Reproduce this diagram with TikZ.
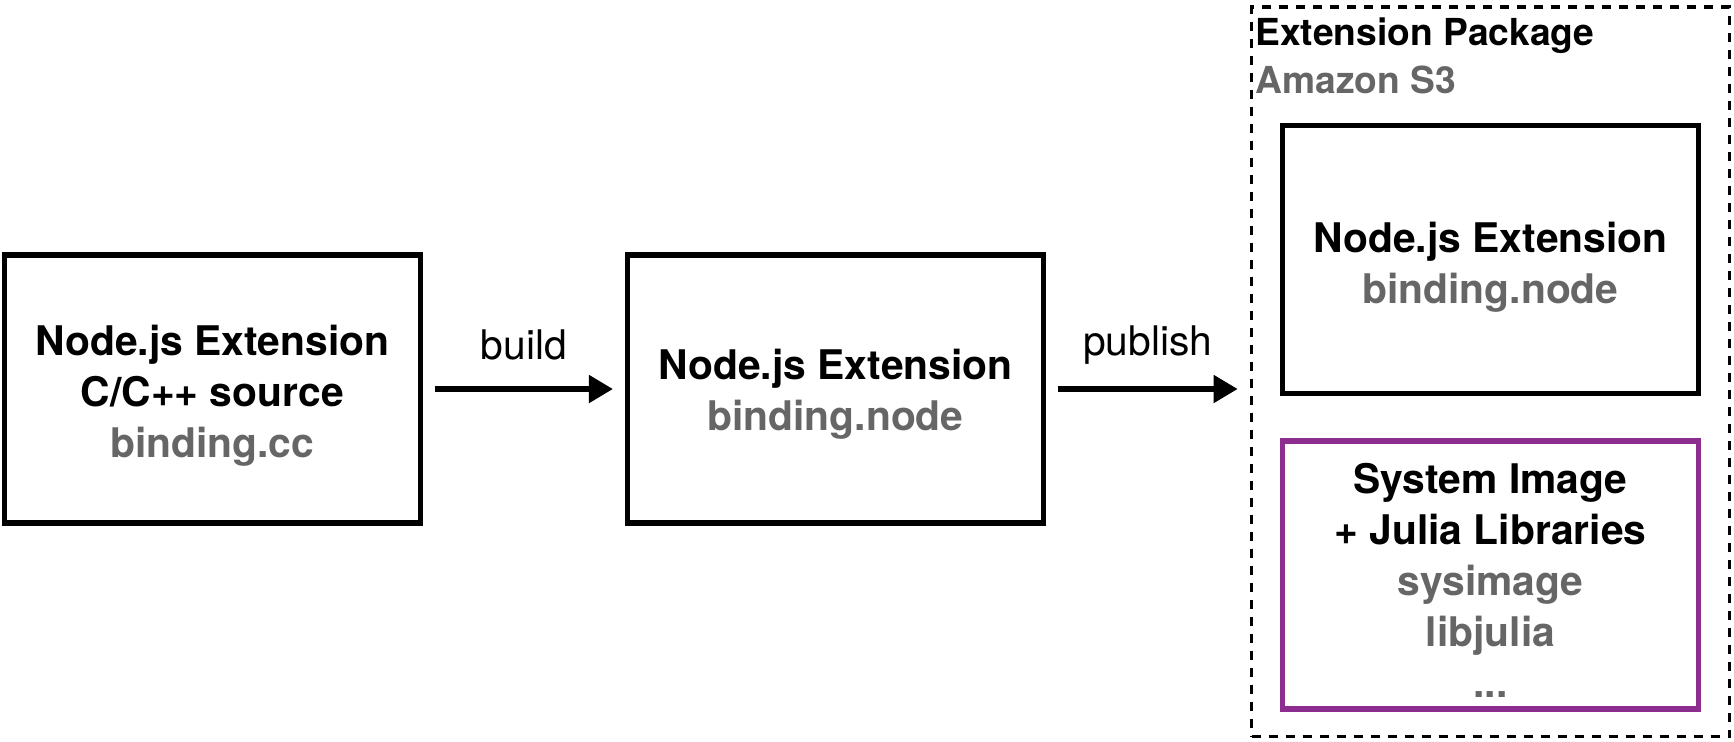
\documentclass[tikz,border=0pt]{standalone}
\usepackage{fontspec}
\setmainfont{TeX Gyre Heros}
\usetikzlibrary{arrows.meta}
\definecolor{txtgray}{HTML}{666666}
\definecolor{purp}{HTML}{8C2D8F}
\begin{document}
\begin{tikzpicture}[x=0.5pt,y=-0.5pt,
  box/.style={draw=black, line width=2.6pt, minimum width=208pt, minimum height=134pt, inner sep=0pt},
  pbox/.style={box, draw=purp},
  txt/.style={inner sep=0pt, align=center, font=\bfseries\fontsize{20.4}{25.5}\selectfont},
  grp/.style={draw=black, line width=1.9pt, dash pattern=on 4.5pt off 4pt, minimum width=239pt, minimum height=364.75pt, inner sep=0pt},
  arr/.style={-{Triangle[length=12pt,width=13.5pt]}, line width=2.6pt, shorten <=6pt, shorten >=6pt},
  lbl/.style={font=\fontsize{20.4}{24}\selectfont, inner sep=0pt},
  ttl/.style={font=\bfseries\fontsize{18.6}{22}\selectfont, inner sep=0pt, anchor=west}
]
\useasboundingbox (0,0) rectangle (1734,741);
\node[box] (b1) at (212.3,389) {};
\node[txt] (b1t) at ([yshift=-3.2pt]b1.center) {Node.js Extension\\C/C++ source\\\textcolor{txtgray}{binding.cc}};
\node[box] (b2) at (835.5,389) {};
\node[txt] (b2t) at ([yshift=-2.4pt]b2.center) {Node.js Extension\\\textcolor{txtgray}{binding.node}};
\node[grp] (pkg) at (1490.5,371.75) {};
\node[box] (b3) at (1490.5,259.5) {};
\node[txt] (b3t) at ([yshift=-3.8pt]b3.center) {Node.js Extension\\\textcolor{txtgray}{binding.node}};
\node[pbox] (b4) at (1490.5,575) {};
\node[txt] (b4t) at ([yshift=-2.5pt]b4.center) {System Image\\+ Julia Libraries\\\textcolor{txtgray}{sysimage}\\\textcolor{txtgray}{libjulia}\\\textcolor{txtgray}{...}};
\node[ttl] (t1) at (1255,36) {Extension Package};
\node[ttl, text=txtgray] (t2) at (1255,80) {Amazon S3};
\draw[arr] (b1) -- (b2) node[midway, lbl, yshift=21.8pt] (l1) {build};
\draw[arr] (b2.east) -- (b2.east -| pkg.west) coordinate (p2end) node[midway, lbl, yshift=21.8pt] (l2) {publish};
\end{tikzpicture}
\end{document}
